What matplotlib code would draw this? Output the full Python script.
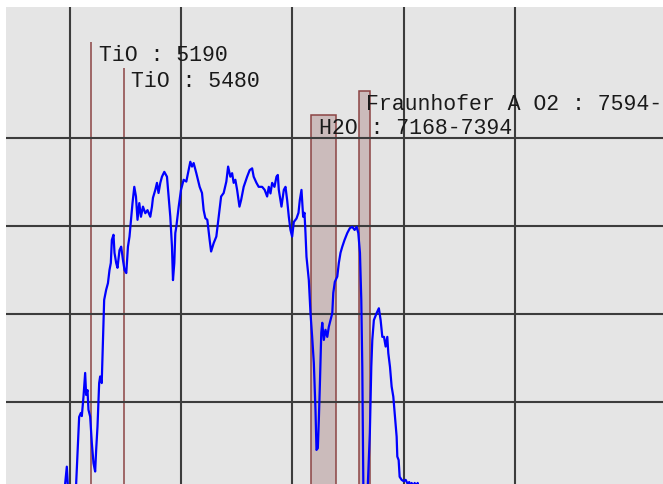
"""Spectrum plot with molecular / telluric absorption features marked."""

import matplotlib
matplotlib.use("Agg")
import matplotlib.pyplot as plt

# Observed spectrum (wavelength in Angstrom, relative flux)
wave = [4946, 4955, 4970, 4977, 4986,
        5036, 5054, 5066, 5081, 5096, 5105, 5120, 5135, 5144, 5156, 5165,
        5180, 5195, 5210, 5225, 5234, 5246, 5261, 5270, 5284, 5295, 5306,
        5324, 5340, 5354, 5366, 5375, 5390, 5399, 5414, 5426, 5444, 5459,
        5475, 5489, 5505, 5520, 5534, 5550, 5561, 5577, 5592, 5606, 5622,
        5637, 5655, 5676, 5696, 5721, 5736, 5745, 5766, 5781, 5795, 5811,
        5826, 5847, 5871, 5886, 5901, 5916, 5925, 5937, 5946, 5955, 5976,
        5997, 6021, 6045, 6066, 6081, 6096, 6111, 6135, 6165, 6186, 6201,
        6216, 6234, 6255, 6268, 6291, 6315, 6336, 6358, 6381, 6405, 6421,
        6441, 6457, 6471, 6486, 6502, 6523, 6538, 6561, 6592, 6615, 6637,
        6651, 6676, 6696, 6727, 6750, 6772, 6787, 6802, 6817, 6838, 6856,
        6868, 6877, 6901, 6922, 6937, 6952, 6967, 6982, 6997, 7012, 7036,
        7054, 7066, 7081, 7096, 7108, 7117, 7126, 7147, 7162, 7177, 7192,
        7207, 7216, 7228, 7237, 7246, 7259, 7268, 7282, 7297, 7313, 7327,
        7342, 7358, 7367, 7381, 7403, 7417, 7432, 7448, 7468, 7493, 7516,
        7538, 7559, 7577, 7592, 7607, 7619, 7628, 7637, 7649, 7667, 7678,
        7696, 7709, 7718, 7732, 7757, 7777, 7793, 7808, 7823, 7838, 7853,
        7862, 7877, 7892, 7907, 7922, 7937, 7943, 7955, 7964, 7982, 8000,
        8018, 8036, 8050, 8063, 8072, 8090, 8099, 8117, 8126, 8144, 8423]
flux = [-0.023, 0.014, 0.053, 0.023, -0.023,
        -0.023, 0.014, 0.084, 0.166, 0.175, 0.168, 0.212, 0.266, 0.216, 0.227, 0.182,
        0.167, 0.107, 0.061, 0.042, 0.091, 0.144, 0.243, 0.258, 0.243, 0.341, 0.432,
        0.455, 0.470, 0.500, 0.516, 0.568, 0.580, 0.539, 0.516, 0.505, 0.545, 0.553,
        0.523, 0.500, 0.493, 0.553, 0.576, 0.621, 0.652, 0.689, 0.667, 0.614, 0.652,
        0.621, 0.644, 0.629, 0.636, 0.621, 0.644, 0.664, 0.682, 0.698, 0.675, 0.698,
        0.712, 0.723, 0.712, 0.667, 0.621, 0.553, 0.477, 0.516, 0.584, 0.598, 0.643,
        0.682, 0.705, 0.701, 0.727, 0.746, 0.735, 0.743, 0.720, 0.689, 0.675, 0.636,
        0.618, 0.614, 0.568, 0.542, 0.561, 0.576, 0.621, 0.667, 0.675, 0.701, 0.735,
        0.712, 0.720, 0.698, 0.705, 0.682, 0.644, 0.659, 0.689, 0.712, 0.727, 0.731,
        0.712, 0.698, 0.689, 0.689, 0.682, 0.667, 0.689, 0.674, 0.698, 0.689, 0.712,
        0.716, 0.682, 0.644, 0.682, 0.689, 0.659, 0.621, 0.591, 0.576, 0.609, 0.617,
        0.630, 0.659, 0.682, 0.621, 0.630, 0.584, 0.530, 0.477, 0.402, 0.348, 0.289,
        0.182, 0.091, 0.095, 0.159, 0.235, 0.357, 0.380, 0.341, 0.364, 0.348, 0.371,
        0.386, 0.402, 0.448, 0.473, 0.485, 0.516, 0.539, 0.553, 0.568, 0.584, 0.595,
        0.598, 0.591, 0.598, 0.584, 0.539, 0.432, 0.280, 0.014, -0.068, -0.068, 0.014,
        0.130, 0.280, 0.341, 0.386, 0.402, 0.413, 0.386, 0.348, 0.348, 0.326, 0.348,
        0.311, 0.280, 0.235, 0.212, 0.167, 0.121, 0.076, 0.068, 0.030, 0.023, 0.020,
        0.023, 0.014, 0.018, 0.005, 0.016, 0.005, 0.016, 0.005, 0.016, -0.011, -0.023]

# Single-wavelength features
line_names = ["TiO", "TiO"]
line_wave = [5190, 5480]
line_top = [1.018, 0.959]

# Absorption bands (start, end)
band_names = ["H2O", "Fraunhofer A O2"]
band_start = [7168, 7594]
band_end = [7394, 7700]
band_top = [0.852, 0.907]

fig = plt.figure(figsize=(6.63, 4.84), dpi=100)
ax = fig.add_axes([6 / 663, 0, 657 / 663, 477 / 484])
ax.set_facecolor("#e5e5e5")

feature_color = "#8c4444"
label_font = dict(family=["Liberation Mono", "DejaVu Sans Mono"], fontsize=15.5, color="#1a1a1a")

for name, wl, top in zip(line_names, line_wave, line_top):
    ax.vlines(wl, -0.2, top, color=feature_color, lw=1.1, zorder=1)
    ax.annotate(f"{name} : {wl}", xy=(wl, top), xytext=(5.5, -10),
                textcoords="offset points", va="center", ha="left",
                zorder=4, **label_font)

for name, start, end, top in zip(band_names, band_start, band_end, band_top):
    ax.bar(start, top + 0.2, bottom=-0.2, width=end - start, align="edge",
           color="#cbbbbb", edgecolor=feature_color, linewidth=1.1, zorder=1)
    ax.annotate(f"{name} : {start}-{end}", xy=(start, top), xytext=(5.5, -10),
                textcoords="offset points", va="center", ha="left",
                zorder=4, **label_font)

ax.plot(wave, flux, color="#0000ff", lw=1.6, zorder=3)

ax.set_xlim(4423, 10333)
ax.set_ylim(0.0136, 1.0977)
ax.set_xticks([5000, 6000, 7000, 8000, 9000])
ax.set_yticks([0.2, 0.4, 0.6, 0.8])
ax.grid(True, color="#3c3c3c", lw=1.5)
ax.tick_params(length=0, labelbottom=False, labelleft=False)
for spine in ax.spines.values():
    spine.set_visible(False)

fig.savefig("out.png", dpi=100)
